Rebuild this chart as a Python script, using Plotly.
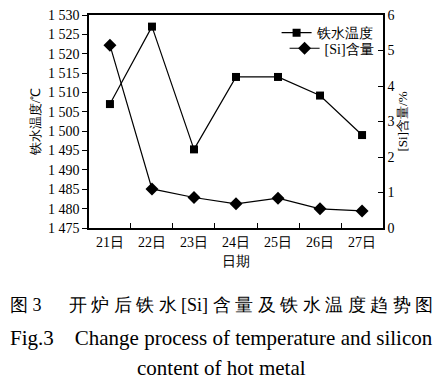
import plotly.graph_objects as go

days = ["21日", "22日", "23日", "24日", "25日", "26日", "27日"]
temperature = [1507, 1527, 1495.3, 1514, 1514, 1509.2, 1499]
si_content = [5.15, 1.1, 0.86, 0.68, 0.84, 0.54, 0.48]
temp_ticks = [1475, 1480, 1485, 1490, 1495, 1500, 1505, 1510, 1515, 1520, 1525, 1530]
temp_ticktext = ["1 475", "1 480", "1 485", "1 490", "1 495", "1 500", "1 505", "1 510", "1 515", "1 520", "1 525", "1 530"]
si_ticks = [0, 1, 2, 3, 4, 5, 6]

FONT = "Liberation Serif"

fig = go.Figure()
fig.add_trace(go.Scatter(x=days, y=temperature, name="铁水温度", mode="lines+markers",
                         line=dict(color="black", width=1.2),
                         marker=dict(symbol="square", size=8, color="black"), yaxis="y",
                         legend="legend"))
fig.add_trace(go.Scatter(x=days, y=si_content, name="[Si]含量", mode="lines+markers",
                         line=dict(color="black", width=1.2),
                         marker=dict(symbol="diamond", size=10, color="black"), yaxis="y2",
                         legend="legend2"))

legend_common = dict(xanchor="right", yanchor="middle", bgcolor="rgba(0,0,0,0)",
                     font=dict(size=14), itemwidth=30, borderwidth=0)

fig.update_layout(
    width=443, height=388,
    margin=dict(l=89, r=60, t=15, b=160),
    paper_bgcolor="white", plot_bgcolor="white",
    font=dict(family=FONT, size=13, color="black"),
    showlegend=True,
    legend=dict(x=0.985, y=0.915, **legend_common),
    legend2=dict(x=0.985, y=0.842, **legend_common),
    xaxis=dict(type="category", showline=True, linecolor="black", linewidth=1.5, mirror=True,
               ticks="inside", tickson="boundaries", ticklen=5, tickcolor="black",
               showgrid=False, zeroline=False, tickfont=dict(size=14), automargin=False,
               title=dict(text="日期", font=dict(size=14), standoff=8)),
    yaxis=dict(range=[1475, 1530], tickvals=temp_ticks, ticktext=temp_ticktext,
               showline=True, linecolor="black", linewidth=1.5, ticks="outside", ticklen=5,
               tickcolor="black", showgrid=False, zeroline=False, tickfont=dict(size=14),
               automargin=False,
               title=dict(text="铁水温度/℃", font=dict(size=13), standoff=4)),
    yaxis2=dict(range=[0, 6], tickvals=si_ticks, overlaying="y", side="right",
                showline=True, linecolor="black", linewidth=1.5, ticks="inside", ticklen=5,
                tickcolor="black", showgrid=False, zeroline=False, tickfont=dict(size=14),
                automargin=False,
                title=dict(text="[Si]含量/%", font=dict(size=13), standoff=4)),
)

cn_font = dict(family=FONT, size=18, color="black")
en_font = dict(family=FONT, size=21, color="black")
cn_body = " ".join(["开", "炉", "后", "铁", "水", "[Si]", "含", "量", "及", "铁", "水", "温", "度", "趋", "势", "图"])
fig.add_annotation(text="图 3　  " + cn_body, xref="paper", yref="paper",
                   x=0.449, y=-0.3615, xanchor="center", yanchor="middle", showarrow=False,
                   font=cn_font)
fig.add_annotation(text="Fig.3　Change process of temperature and silicon", xref="paper", yref="paper",
                   x=0.449, y=-0.516, xanchor="center", yanchor="middle", showarrow=False,
                   font=en_font)
fig.add_annotation(text="content of hot metal", xref="paper", yref="paper",
                   x=0.449, y=-0.657, xanchor="center", yanchor="middle", showarrow=False,
                   font=en_font)

fig.write_html("out.html", config={"displayModeBar": False},
               post_script="document.body.style.margin='0';document.body.style.overflow='hidden';")
